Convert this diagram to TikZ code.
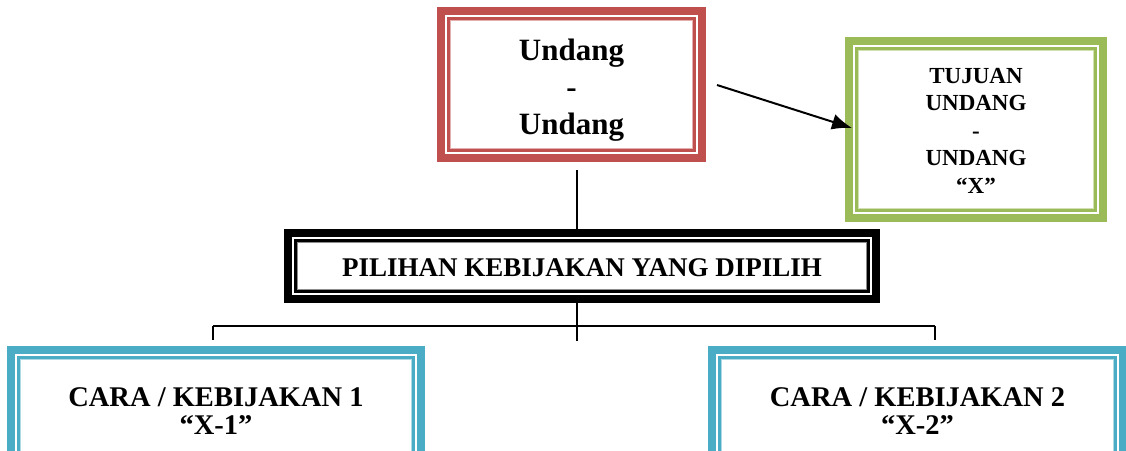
\documentclass[tikz,border=0pt]{standalone}
\usepackage{fontspec}
\setmainfont{Liberation Serif}
\usetikzlibrary{arrows.meta,calc}
\definecolor{redb}{HTML}{C0504D}
\definecolor{greenb}{HTML}{9BBB59}
\definecolor{cyanb}{HTML}{4BACC6}
% #1 node, #2 colour, #3 vertical offset of the frame relative to the node
\newcommand\frameit[3]{%
  \draw[#2, line width=8pt] ([shift={(4pt,-4pt)},yshift=#3]#1.north west) rectangle ([shift={(-4pt,4pt)},yshift=#3]#1.south east);
  \draw[#2, line width=2.4pt] ([shift={(11.7pt,-11.7pt)},yshift=#3]#1.north west) rectangle ([shift={(-11.7pt,11.7pt)},yshift=#3]#1.south east);
  \draw[#2!45, line width=1.2pt] ([shift={(13.6pt,-13.6pt)},yshift=#3]#1.north west) rectangle ([shift={(-13.6pt,13.6pt)},yshift=#3]#1.south east);
}
\tikzset{
  box/.style={rectangle, inner sep=0pt, align=center, font=\bfseries},
  conn/.style={line width=1.4pt, black},
  arr/.style={line width=2pt, black, -{Latex[length=20pt,width=16pt]}}
}
\begin{document}
\begin{tikzpicture}[x=1pt,y=1pt]
\useasboundingbox (0,0) rectangle (1126,-450);
\clip (0,0) rectangle (1126,-450);
\node[box, minimum width=269pt, minimum height=155pt, font=\bfseries\fontsize{31}{37}\selectfont] (top) at (571.5,-90) {Undang\\-\\Undang};
\node[box, minimum width=262pt, minimum height=185pt, font=\bfseries\fontsize{23}{27.5}\selectfont] (goal) at (976,-130.5) {TUJUAN\\UNDANG\\-\\UNDANG\\“X”};
\node[box, minimum width=596pt, minimum height=74pt, font=\bfseries\fontsize{27}{32}\selectfont] (mid) at (582,-268) {PILIHAN KEBIJAKAN YANG DIPILIH};
\node[box, minimum width=418pt, minimum height=130pt, font=\bfseries\fontsize{28.5}{28.5}\selectfont] (left) at (216,-411) {CARA / KEBIJAKAN 1\\“X-1”};
\node[box, minimum width=419pt, minimum height=130pt, font=\bfseries\fontsize{28.5}{28.5}\selectfont] (right) at (917.5,-411) {CARA / KEBIJAKAN 2\\“X-2”};
\frameit{top}{redb}{5.5pt}
\frameit{goal}{greenb}{1pt}
\frameit{mid}{black}{2pt}
\frameit{left}{cyanb}{0pt}
\frameit{right}{cyanb}{0pt}
\coordinate (hub) at (577,-326);
\coordinate (hubend) at (577,-341);
\coordinate (lj) at (213,-326);
\coordinate (rj) at (935,-326);
\coordinate (astart) at (717,-85);
\coordinate (aend) at (852,-128);
\draw[conn] ([xshift=5.5pt,yshift=-2.5pt]top.south) -- ([xshift=5.5pt,yshift=2pt]top.south |- mid.north);
\draw[conn] ([yshift=2pt]mid.south -| hub) -- (hubend);
\draw[conn] (lj) -- (rj);
\draw[conn] (lj) -- ([yshift=6pt]lj |- left.north);
\draw[conn] (rj) -- ([yshift=6pt]rj |- right.north);
\draw[arr] (astart) -- (aend);
\end{tikzpicture}
\end{document}
